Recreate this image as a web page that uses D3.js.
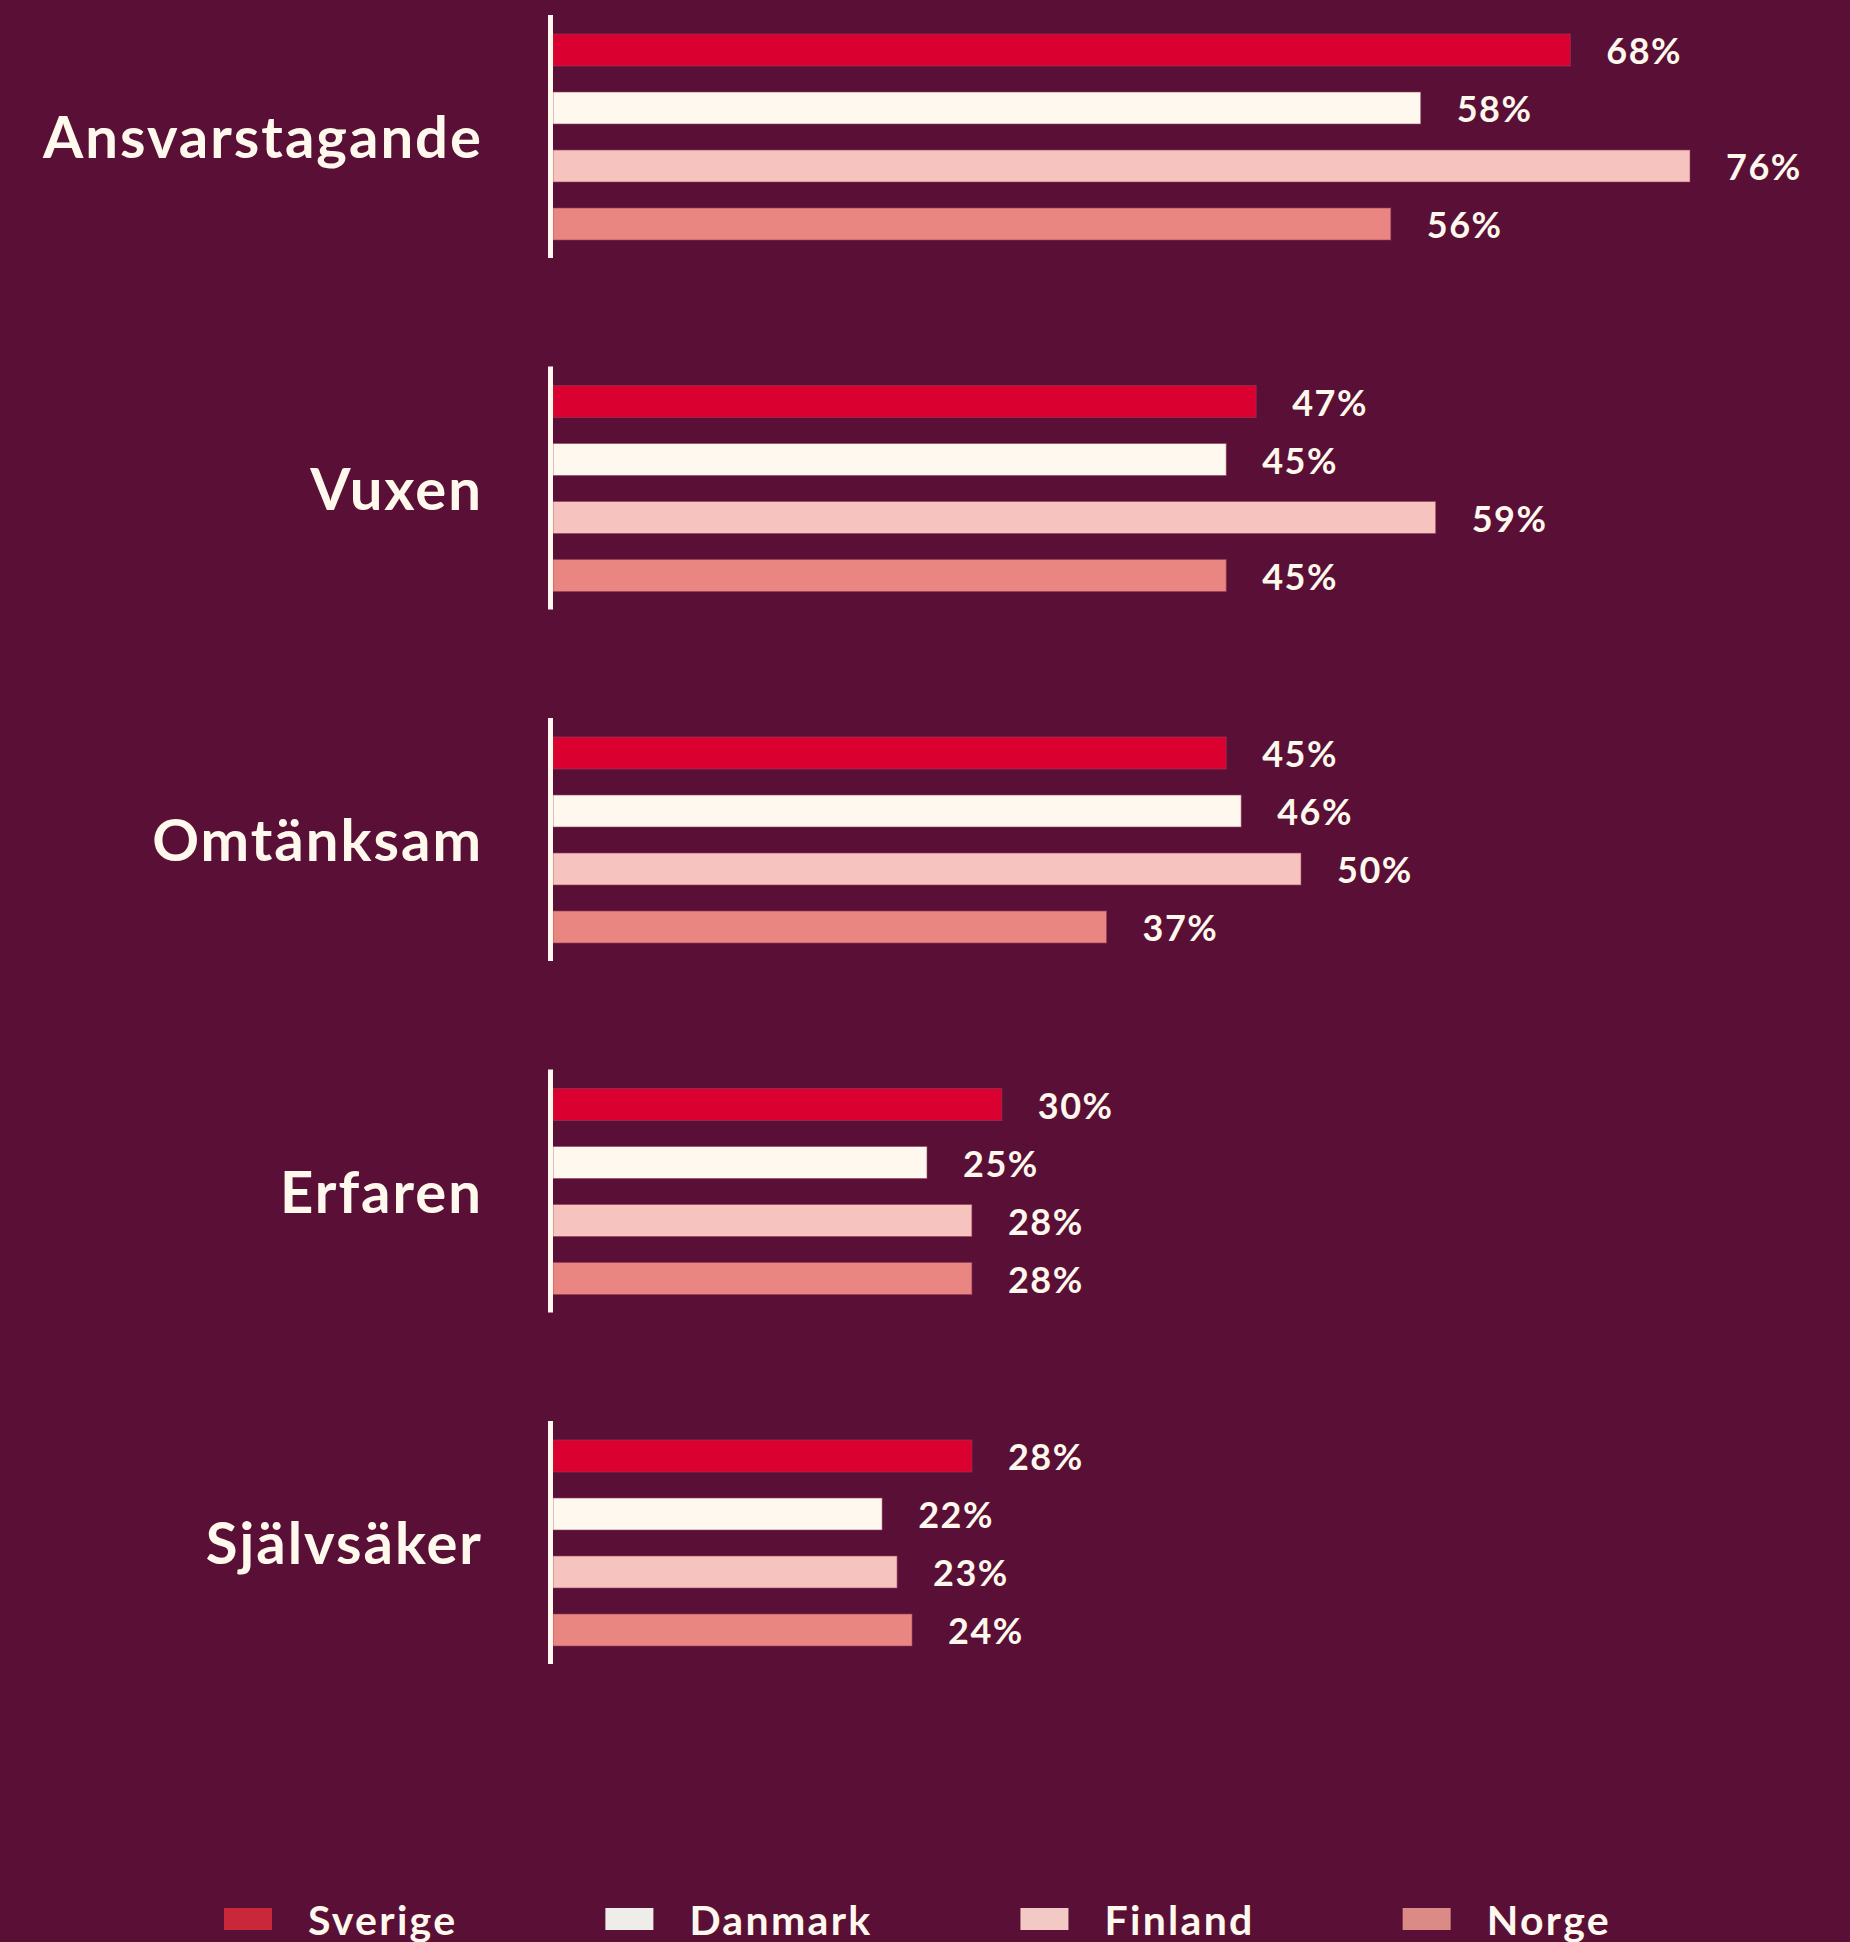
<!DOCTYPE html>
<html>
<head>
<meta charset="utf-8">
<script src="https://cdn.jsdelivr.net/npm/d3@7"></script>
<style>
    body { margin: 0; background: #5a1036; }
    svg { display: block; }
    text { font-family: Lato, "Open Sans", sans-serif; font-weight: 700; fill: #fff8ec; }
</style>
</head>
<body>
<svg id="chart" width="1850" height="1942"></svg>
<script>
// categories and series values (percent)
const categories = ["Ansvarstagande", "Vuxen", "Omtänksam", "Erfaren", "Självsäker"];
const seriesNames = ["Sverige", "Danmark", "Finland", "Norge"];
const sverige = [68, 47, 45, 30, 28];
const danmark = [58, 45, 46, 25, 22];
const finland = [76, 59, 50, 28, 23];
const norge = [56, 45, 37, 28, 24];

const barColors = ["#da0030", "#fff8ee", "#f7c3bf", "#e98682"];
const legendColors = ["#c8283a", "#efedea", "#f2c9c4", "#da8b85"];

const values = [sverige, danmark, finland, norge];
const rows = categories.map((c, i) => ({
    category: c,
    bars: seriesNames.map((s, j) => ({ series: s, value: values[j][i] }))
}));

const svg = d3.select("#chart");

const x = d3.scaleLinear().domain([0, 76]).range([553, 1690]);

const y = d3.scaleBand()
    .domain(categories)
    .range([34, 34 + 4 * 351.5 + 206])
    .paddingInner(1 - 206 / 351.5)
    .paddingOuter(0);

const yInner = d3.scaleBand()
    .domain(seriesNames)
    .range([0, y.bandwidth()])
    .paddingInner(26 / 58)
    .paddingOuter(0);

const color = d3.scaleOrdinal().domain(seriesNames).range(barColors);

const groups = svg.selectAll("g.group").data(rows).enter()
    .append("g")
    .attr("class", "group")
    .attr("transform", d => `translate(0,${y(d.category)})`);

// category label
groups.append("text")
    .attr("x", 483)
    .attr("y", y.bandwidth() / 2 + 21)
    .attr("text-anchor", "end")
    .style("font-size", "58px")
    .style("letter-spacing", "2px")
    .text(d => d.category);

// bars
groups.selectAll("rect.bar").data(d => d.bars).enter()
    .append("rect")
    .attr("class", "bar")
    .attr("x", x(0))
    .attr("y", d => yInner(d.series))
    .attr("width", d => x(d.value) - x(0))
    .attr("height", yInner.bandwidth())
    .attr("fill", d => color(d.series))
    .attr("stroke", "rgba(150,60,90,0.6)")
    .attr("stroke-width", 1);

// value labels
groups.selectAll("text.value").data(d => d.bars).enter()
    .append("text")
    .attr("class", "value")
    .attr("x", d => x(d.value) + 36)
    .attr("y", d => yInner(d.series) + yInner.bandwidth() / 2 + 14)
    .style("font-size", "36px")
    .style("letter-spacing", "1.5px")
    .text(d => d.value + "%");

// vertical axis line per group
groups.append("line")
    .attr("x1", 550.5).attr("x2", 550.5)
    .attr("y1", -19).attr("y2", y.bandwidth() + 18)
    .attr("stroke", "#fff8ec")
    .attr("stroke-width", 5);

// legend, flowing left to right
const legend = svg.append("g").attr("class", "legend");
let lx = 224;
seriesNames.forEach((s, i) => {
    legend.append("rect")
        .attr("x", lx).attr("y", 1908)
        .attr("width", 48).attr("height", 22)
        .attr("fill", legendColors[i]);
    const t = legend.append("text")
        .attr("x", lx + 84).attr("y", 1935)
        .style("font-size", "41px")
        .style("letter-spacing", "2.3px")
        .text(s);
    lx += 84 + t.node().getComputedTextLength() + 148;
});
</script>
</body>
</html>
